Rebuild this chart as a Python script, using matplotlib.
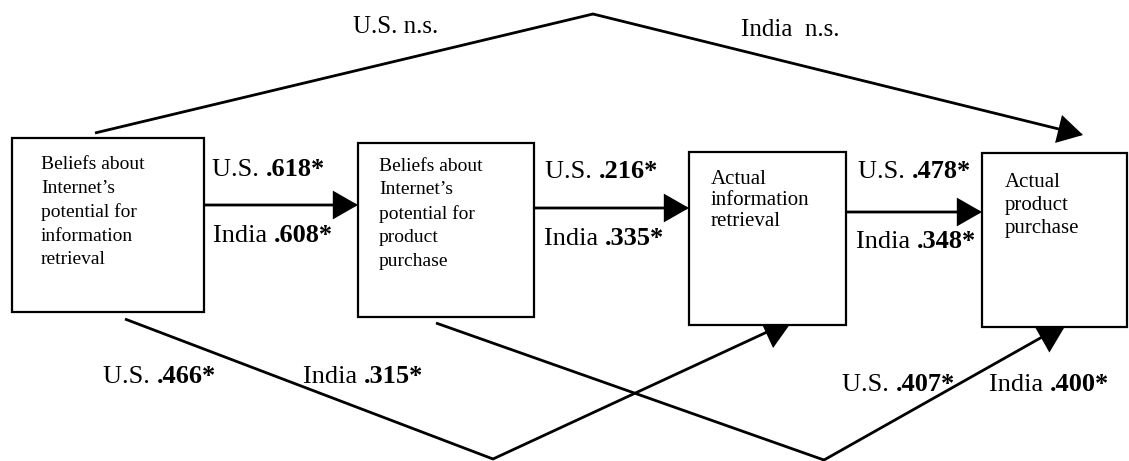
import matplotlib
matplotlib.use("Agg")
import matplotlib.pyplot as plt
from matplotlib.patches import Rectangle, FancyArrowPatch

# ---- data ----
node_labels = [
    "Beliefs about\nInternet\u2019s\npotential for\ninformation\nretrieval",
    "Beliefs about\nInternet\u2019s\npotential for\nproduct\npurchase",
    "Actual\ninformation\nretrieval",
    "Actual\nproduct\npurchase",
]
path_names = ["1->2", "2->3", "3->4", "1->3", "2->4", "1->4"]
us_coef = [".618*", ".216*", ".478*", ".466*", ".407*", "n.s."]
india_coef = [".608*", ".335*", ".348*", ".315*", ".400*", "n.s."]

# ---- layout (pixel coordinates) ----
W, H = 1129, 461
fig = plt.figure(figsize=(W / 100, H / 100), dpi=100)
ax = fig.add_axes([0, 0, 1, 1])
ax.set_xlim(0, W)
ax.set_ylim(H, 0)
ax.axis("off")

SERIF = "Liberation Serif"
boxes = [(12, 138, 204, 312), (358, 143, 534, 317), (689, 152, 846, 325), (982, 153, 1127, 327)]
text_pos = [(41, 156, 14, 1.50), (379, 158, 14, 1.49), (711, 170, 15, 1.13), (1005, 173, 15, 1.27)]

for (x0, y0, x1, y1), lab, (tx, ty, fs, ls) in zip(boxes, node_labels, text_pos):
    ax.add_patch(Rectangle((x0, y0), x1 - x0, y1 - y0, facecolor="white",
                           edgecolor="black", lw=1.6, zorder=5))
    ax.text(tx, ty, lab, ha="left", va="top", fontsize=fs, family=SERIF,
            linespacing=ls, zorder=6)

LW = 2.0
AST = "-|>,head_length=0.42,head_width=0.24"


def arrow(p0, p1, ms=36):
    ax.add_patch(FancyArrowPatch(p0, p1, arrowstyle=AST, mutation_scale=ms,
                                 color="black", lw=LW, shrinkA=0, shrinkB=0,
                                 zorder=3, joinstyle="miter"))


def seg(pts):
    xs, ys = zip(*pts)
    ax.plot(xs, ys, color="black", lw=LW, zorder=3, solid_capstyle="butt")


# horizontal paths
arrow((204, 205), (358, 205))
arrow((534, 208), (689, 208))
arrow((846, 212), (982, 212))
# top path
seg([(95, 133), (593, 14)])
arrow((593, 14), (1083, 135))
# lower crossing paths (heads partly hidden behind the boxes)
seg([(125, 319), (493, 459)])
arrow((493, 459), (793, 320), ms=44)
seg([(436, 323), (824, 460)])
arrow((824, 460), (1067, 323), ms=44)


def coef_label(x, y, prefix, value):
    t = ax.text(x, y, prefix, ha="left", va="center", fontsize=19,
                family=SERIF, zorder=7)
    ax.annotate(value, xy=(1, 0), xycoords=t, ha="left", va="bottom",
                fontsize=19, family=SERIF, fontweight="bold", zorder=7)


label_pos_us = [(212, 170), (545, 172), (858, 172), (103, 377), (842, 385), (353, 27)]
label_pos_in = [(213, 236), (544, 239), (856, 242), (303, 377), (989, 385), (741, 30)]

for i, (u, ind) in enumerate(zip(us_coef, india_coef)):
    if u == "n.s.":
        ax.text(*label_pos_us[i], "U.S. " + u, ha="left", va="center",
                fontsize=18, family=SERIF)
        ax.text(*label_pos_in[i], "India  " + ind, ha="left", va="center",
                fontsize=18, family=SERIF)
    else:
        coef_label(*label_pos_us[i], "U.S. ", u)
        coef_label(*label_pos_in[i], "India ", ind)

fig.savefig("out.png", dpi=100, facecolor="white")
